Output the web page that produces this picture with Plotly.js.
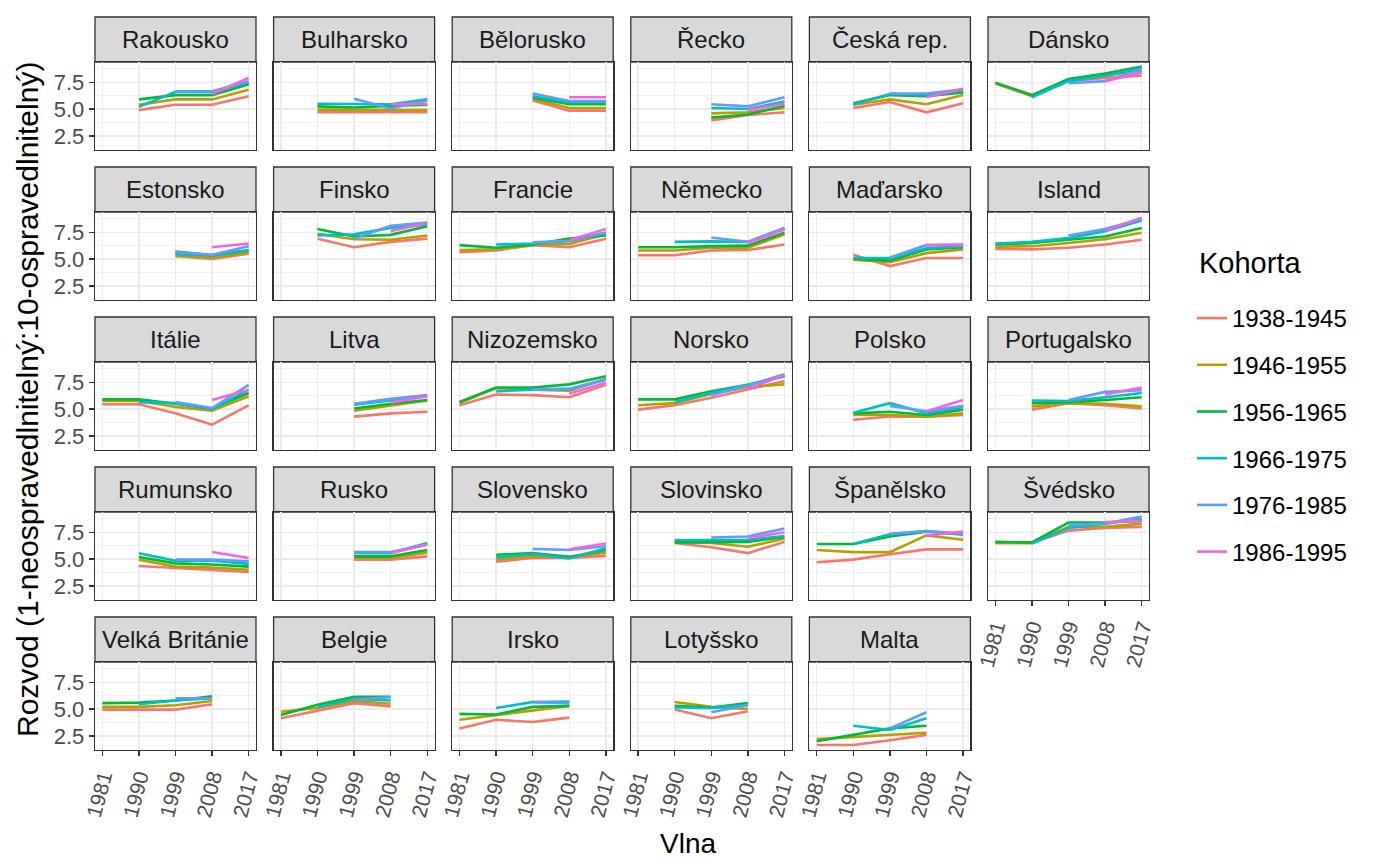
<!DOCTYPE html>
<html><head><meta charset="utf-8">
<script src="https://cdn.plot.ly/plotly-3.0.1.min.js"></script>
<style>html,body{margin:0;padding:0;background:#fff}</style>
</head><body><div id="chart" style="width:1386px;height:859px"></div>
<script>
// ---------- data ----------
const waves = [1981, 1990, 1999, 2008, 2017];
const waveLabels = ['1981', '1990', '1999', '2008', '2017'];
const yTickVals = [2.5, 5.0, 7.5];
const yTickLabels = ['2.5', '5.0', '7.5'];
const cohorts = ['1938-1945', '1946-1955', '1956-1965', '1966-1975', '1976-1985', '1986-1995'];
const cohortColors = ['#F8766D', '#B79F00', '#00BA38', '#00BFC4', '#619CFF', '#F564E3'];
const countries = ['Rakousko', 'Bulharsko', 'Bělorusko', 'Řecko', 'Česká rep.', 'Dánsko',
  'Estonsko', 'Finsko', 'Francie', 'Německo', 'Maďarsko', 'Island',
  'Itálie', 'Litva', 'Nizozemsko', 'Norsko', 'Polsko', 'Portugalsko',
  'Rumunsko', 'Rusko', 'Slovensko', 'Slovinsko', 'Španělsko', 'Švédsko',
  'Velká Británie', 'Belgie', 'Irsko', 'Lotyšsko', 'Malta'];

// each country: one row per cohort, values per wave (1981,1990,1999,2008,2017)
const rakousko = [[null,4.9,5.4,5.4,6.2],[null,5.4,5.9,5.9,6.8],[null,5.9,6.3,6.3,7.3],[null,5.2,6.6,6.6,7.5],[null,null,6.65,6.65,7.6],[null,null,null,6.4,7.9]];
const bulharsko = [[null,4.7,4.7,4.7,4.7],[null,4.95,4.95,4.9,4.9],[null,5.25,5.15,5.3,5.4],[null,5.5,5.5,5.45,5.9],[null,null,5.95,5.05,5.8],[null,null,null,5.45,5.5]];
const belorusko = [[null,null,5.8,4.85,4.85],[null,null,5.95,5.1,5.1],[null,null,6.05,5.45,5.45],[null,null,6.2,5.65,5.65],[null,null,6.45,5.75,5.75],[null,null,null,6.1,6.1]];
const recko = [[null,null,3.95,4.45,4.7],[null,null,4.6,4.7,5.1],[null,null,4.2,4.5,5.3],[null,null,5.1,5.0,5.7],[null,null,5.45,5.25,6.1],[null,null,null,4.9,5.5]];
const ceskaRep = [[null,5.1,5.65,4.7,5.55],[null,5.4,5.9,5.45,6.3],[null,5.55,6.3,6.2,6.55],[null,5.45,6.4,6.35,6.7],[null,null,6.45,6.45,6.85],[null,null,null,6.1,6.9]];
const dansko = [[7.4,6.2,7.6,7.9,8.1],[7.4,6.25,7.7,8.1,8.6],[7.45,6.3,7.8,8.3,8.95],[null,6.1,7.6,8.1,8.85],[null,null,7.4,7.6,8.7],[null,null,null,7.6,8.4]];
const estonsko = [[null,null,5.3,5.0,5.5],[null,null,5.3,5.15,5.6],[null,null,5.7,5.35,5.8],[null,null,5.45,5.35,5.85],[null,null,5.65,5.4,6.2],[null,null,null,6.1,6.45]];
const finsko = [[null,6.9,6.1,6.6,6.9],[null,7.35,6.85,6.8,7.2],[null,7.8,7.1,7.25,8.05],[null,7.2,7.3,7.9,8.2],[null,null,6.9,8.1,8.4],[null,null,null,7.6,8.35]];
const francie = [[5.65,5.8,6.3,6.1,6.9],[5.85,5.9,6.3,6.4,7.3],[6.3,6.05,6.35,6.9,7.2],[null,6.35,6.45,6.65,7.45],[null,null,6.55,6.7,7.45],[null,null,null,6.75,7.8]];
const nemecko = [[5.35,5.35,5.8,5.85,6.35],[5.8,5.8,6.05,6.05,7.3],[6.1,6.1,6.2,6.25,7.45],[null,6.6,6.65,6.6,7.85],[null,null,7.0,6.6,7.9],[null,null,null,6.5,7.75]];
const madarsko = [[null,5.4,4.35,5.1,5.1],[null,4.95,4.7,5.55,5.9],[null,5.0,4.85,5.9,6.1],[null,5.1,5.1,6.0,6.2],[null,null,5.15,6.3,6.3],[null,null,null,6.3,6.35]];
const island = [[5.95,5.9,6.05,6.35,6.8],[6.15,6.2,6.5,6.85,7.45],[6.35,6.5,6.8,7.1,7.9],[6.45,6.6,6.95,7.6,8.6],[null,null,7.2,7.8,8.75],[null,null,null,7.6,8.85]];
const italie = [[5.45,5.45,4.6,3.55,5.35],[5.75,5.75,5.2,4.85,6.2],[5.9,5.9,5.5,5.05,6.5],[null,5.65,5.55,5.0,6.8],[null,null,5.65,5.1,7.25],[null,null,null,5.85,6.8]];
const litva = [[null,null,4.3,4.6,4.75],[null,null,4.85,5.3,5.8],[null,null,5.05,5.5,5.85],[null,null,5.4,5.8,6.2],[null,null,5.5,5.95,6.3],[null,null,null,5.6,6.2]];
const nizozemsko = [[5.35,6.35,6.3,6.1,7.25],[5.55,6.95,6.8,6.7,7.8],[5.65,7.0,7.0,7.3,8.05],[null,6.65,6.8,6.85,7.75],[null,null,6.85,6.9,7.75],[null,null,null,6.45,7.45]];
const norsko = [[4.95,5.35,6.05,6.8,7.6],[5.35,5.55,6.4,7.05,7.3],[5.9,5.9,6.65,7.25,8.05],[null,5.65,6.5,7.25,8.05],[null,null,6.3,7.2,8.25],[null,null,null,6.85,8.2]];
const polsko = [[null,4.0,4.3,4.3,4.45],[null,4.45,4.45,4.3,4.6],[null,4.6,4.75,4.45,4.95],[null,4.65,5.55,4.6,5.2],[null,null,5.3,4.8,5.3],[null,null,null,4.8,5.85]];
const portugalsko = [[null,4.95,5.55,5.35,5.05],[null,5.25,5.55,5.5,5.25],[null,5.55,5.65,5.85,6.1],[null,5.8,5.75,6.1,6.5],[null,null,5.85,6.6,6.75],[null,null,null,6.35,7.0]];
const rumunsko = [[null,4.35,4.15,4.0,3.8],[null,4.95,4.3,4.2,4.0],[null,5.2,4.6,4.5,4.3],[null,5.55,4.85,4.85,4.55],[null,null,4.95,4.95,4.8],[null,null,null,5.65,5.1]];
const rusko = [[null,null,4.95,4.95,5.25],[null,null,5.1,5.1,5.6],[null,null,5.25,5.25,5.85],[null,null,5.55,5.55,6.5],[null,null,5.65,5.65,6.35],[null,null,null,5.55,6.35]];
const slovensko = [[null,4.75,5.1,5.1,5.3],[null,4.95,5.3,5.2,5.6],[null,5.4,5.55,5.2,5.85],[null,5.15,5.5,5.05,6.0],[null,null,5.95,5.85,6.2],[null,null,null,5.9,6.45]];
const slovinsko = [[null,6.5,6.1,5.55,6.6],[null,6.55,6.5,6.15,6.9],[null,6.55,6.6,6.6,7.05],[null,6.75,6.75,6.8,7.15],[null,null,7.0,7.1,7.85],[null,null,null,6.95,7.5]];
const spanelsko = [[4.7,4.95,5.45,5.9,5.9],[5.85,5.65,5.65,7.2,6.8],[6.4,6.4,7.1,7.55,7.3],[null,6.4,7.3,7.6,7.3],[null,null,7.35,7.6,7.35],[null,null,null,7.2,7.55]];
const svedsko = [[6.5,6.5,7.65,7.9,8.0],[6.5,6.5,8.0,8.0,8.3],[6.6,6.55,8.4,8.4,8.55],[null,6.45,7.9,8.3,8.75],[null,null,8.15,8.3,8.95],[null,null,null,8.45,8.55]];
const velkaBritanie = [[4.95,4.95,4.95,5.45,null],[5.2,5.2,5.35,5.75,null],[5.55,5.6,5.8,6.2,null],[null,5.45,5.8,6.0,null],[null,null,6.0,6.0,null],[null,null,null,null,null]];
const belgie = [[4.15,4.85,5.55,5.25,null],[4.75,5.1,5.75,5.5,null],[4.45,5.4,6.15,6.15,null],[null,5.2,5.95,5.8,null],[null,null,5.9,6.1,null],[null,null,null,null,null]];
const irsko = [[3.2,4.0,3.8,4.2,null],[4.0,4.45,4.85,5.3,null],[4.55,4.5,5.2,5.3,null],[null,5.1,5.65,5.7,null],[null,null,5.65,5.55,null],[null,null,null,null,null]];
const lotyssko = [[null,4.95,4.15,4.8,null],[null,5.65,5.2,5.0,null],[null,5.3,5.15,5.55,null],[null,5.15,5.1,5.4,null],[null,null,4.7,5.35,null],[null,null,null,null,null]];
const malta = [[1.65,1.65,2.1,2.6,null],[2.2,2.4,2.6,2.8,null],[2.0,2.6,3.2,3.45,null],[null,3.45,3.05,4.15,null],[null,null,3.2,4.7,null],[null,null,null,null,null]];

const countryValues = [rakousko, bulharsko, belorusko, recko, ceskaRep, dansko,
  estonsko, finsko, francie, nemecko, madarsko, island,
  italie, litva, nizozemsko, norsko, polsko, portugalsko,
  rumunsko, rusko, slovensko, slovinsko, spanelsko, svedsko,
  velkaBritanie, belgie, irsko, lotyssko, malta];

// ---------- layout geometry ----------
const W = 1386, H = 859;
const FONT = 'Liberation Sans, Arial, Helvetica, sans-serif';
const NCOL = 6;
const colLeft0 = 95, colPitch = 178.6, panelW = 161;
const stripTop0 = 17, stripH = 45, panelH = 88, rowPitch = 150;
const nPanels = countries.length;

const traces = [];
const layout = {
  width: W, height: H,
  margin: {l: 0, r: 0, t: 0, b: 0},
  paper_bgcolor: '#FFFFFF', plot_bgcolor: '#FFFFFF',
  font: {family: FONT, color: '#000000'},
  showlegend: true,
  legend: {
    x: 1192 / W, y: 1 - 296 / H, xanchor: 'left', yanchor: 'top',
    font: {size: 24, color: '#000000', family: FONT},
    tracegroupgap: 12.5, bgcolor: 'rgba(0,0,0,0)', borderwidth: 0
  },
  shapes: [], annotations: []
};

for (let i = 0; i < nPanels; i++) {
  const col = i % NCOL, row = Math.floor(i / NCOL);
  const s = i === 0 ? '' : String(i + 1);
  const L = colLeft0 + col * colPitch, R = L + panelW;
  const sTop = stripTop0 + row * rowPitch, pTop = sTop + stripH, pBot = pTop + panelH;
  const isBottom = (i + NCOL) >= nPanels;
  const isLeft = col === 0;

  layout['xaxis' + s] = {
    domain: [L / W, R / W], range: [1979.2, 2018.8], anchor: 'y' + s,
    tickmode: 'array', tickvals: waves, ticktext: waveLabels,
    showticklabels: isBottom, ticks: isBottom ? 'outside' : '', ticklen: 5, tickwidth: 1.3, tickcolor: '#333333',
    tickangle: -75, tickfont: {size: 21, color: '#4D4D4D', family: FONT},
    showgrid: true, gridcolor: '#EBEBEB', gridwidth: 1.4, zeroline: false,
    showline: true, mirror: true, linecolor: '#333333', linewidth: 1.3, fixedrange: true
  };
  layout['yaxis' + s] = {
    domain: [1 - pBot / H, 1 - pTop / H], range: [1.19, 9.38], anchor: 'x' + s,
    tickmode: 'array', tickvals: yTickVals, ticktext: yTickLabels,
    showticklabels: isLeft, ticks: isLeft ? 'outside' : '', ticklen: 5, tickwidth: 1.3, tickcolor: '#333333',
    tickfont: {size: 22, color: '#4D4D4D', family: FONT},
    showgrid: true, gridcolor: '#EBEBEB', gridwidth: 1.4, zeroline: false,
    minor: {tickmode: 'array', tickvals: [1.25, 3.75, 6.25, 8.75], showgrid: true, gridcolor: '#EBEBEB', gridwidth: 0.7, ticks: ''},
    showline: true, mirror: true, linecolor: '#333333', linewidth: 1.3, fixedrange: true
  };

  layout.shapes.push({
    type: 'rect', xref: 'paper', yref: 'paper',
    x0: L / W, x1: R / W, y0: 1 - pTop / H, y1: 1 - sTop / H,
    fillcolor: '#D9D9D9', line: {color: '#333333', width: 1.3}, layer: 'below'
  });
  layout.annotations.push({
    text: countries[i], xref: 'paper', yref: 'paper',
    x: (L + R) / 2 / W, y: 1 - (sTop + stripH / 2) / H, xanchor: 'center', yanchor: 'middle',
    showarrow: false, font: {size: 24, color: '#1A1A1A', family: FONT}
  });

  const vals = countryValues[i];
  for (let k = 0; k < cohorts.length; k++) {
    const yv = vals[k];
    if (!yv.some(v => v !== null)) continue;
    traces.push({
      type: 'scatter', mode: 'lines', x: waves, y: yv,
      xaxis: 'x' + s, yaxis: 'y' + s,
      name: cohorts[k], legendgroup: cohorts[k], showlegend: i === 0,
      line: {color: cohortColors[k], width: 2.6}, hoverinfo: 'skip', connectgaps: false
    });
  }
}

layout.annotations.push({
  text: 'Kohorta', xref: 'paper', yref: 'paper', x: 1197 / W, y: 1 - 263 / H,
  xanchor: 'left', yanchor: 'middle', showarrow: false,
  font: {size: 29, color: '#000000', family: FONT}
});
layout.annotations.push({
  text: 'Vlna', xref: 'paper', yref: 'paper', x: 688 / W, y: 1 - 843 / H,
  xanchor: 'center', yanchor: 'middle', showarrow: false,
  font: {size: 28, color: '#000000', family: FONT}
});
layout.annotations.push({
  text: 'Rozvod (1-neospravedlnitelný:10-ospravedlnitelný)', xref: 'paper', yref: 'paper',
  x: 27 / W, y: 1 - 400 / H, xanchor: 'center', yanchor: 'middle', textangle: -90, showarrow: false,
  font: {size: 30, color: '#000000', family: FONT}
});

Plotly.newPlot('chart', traces, layout, {displayModeBar: false, staticPlot: true});
</script>
</body></html>
